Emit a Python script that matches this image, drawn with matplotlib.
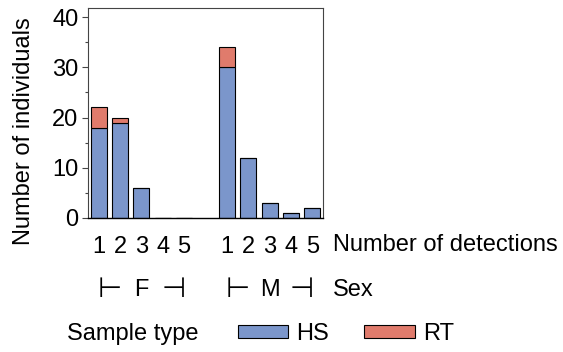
import matplotlib
matplotlib.use("Agg")
import matplotlib.pyplot as plt
import matplotlib.transforms as mtransforms
from matplotlib.patches import Patch
from matplotlib.ticker import MultipleLocator
import numpy as np

plt.rcParams["font.family"] = ["Liberation Sans", "DejaVu Sans"]
plt.rcParams["font.size"] = 17

sexes = ["F", "M"]
detections = ["1", "2", "3", "4", "5"]
hs_counts = {"F": [18, 19, 6, 0, 0], "M": [30, 12, 3, 1, 2]}
rt_counts = {"F": [4, 1, 0, 0, 0], "M": [4, 0, 0, 0, 0]}

HS_COLOR = "#7b96cb"
RT_COLOR = "#e07b6c"
FRAME = "#444444"

fig = plt.figure(figsize=(5.63, 3.52), dpi=100)
ax = fig.add_axes([0.1563, 0.3807, 0.4174, 0.5966])

# each sex gets its own block of 5 bars, one empty slot in between
positions = []
labels = []
for i, sex in enumerate(sexes):
    x = np.arange(len(detections)) + i * (len(detections) + 1)
    ax.bar(x, hs_counts[sex], width=0.75, color=HS_COLOR, edgecolor="black", linewidth=0.8)
    ax.bar(x, rt_counts[sex], width=0.75, bottom=hs_counts[sex], color=RT_COLOR,
           edgecolor="black", linewidth=0.8)
    positions.extend(x)
    labels.extend(detections)

ax.set_xlim(-0.5, 10.5)
ax.set_ylim(0, 41.8)
ax.yaxis.set_major_locator(MultipleLocator(10))
ax.yaxis.set_minor_locator(MultipleLocator(5))
ax.tick_params(axis="y", which="major", length=4, width=0.8, pad=3, color=FRAME)
ax.tick_params(axis="y", which="minor", length=2.5, width=0.8, color=FRAME)

ax.set_xticks(positions, labels)
ax.tick_params(axis="x", length=0, pad=13)

for side in ("top", "right", "left"):
    ax.spines[side].set_color(FRAME)
    ax.spines[side].set_linewidth(0.8)
ax.spines["bottom"].set_color("black")
ax.spines["bottom"].set_linewidth(1.0)

ax.set_ylabel("Number of individuals")
ax.yaxis.set_label_coords(-0.225, 0.416)

# row labels to the right of the axes
trans = mtransforms.blended_transform_factory(ax.transData, fig.transFigure)
row1_y = 1 - 245 / 352
row2_y = 1 - 290 / 352
ax.text(10.95, row1_y, "Number of detections", transform=trans, va="center", ha="left")
for i, sex in enumerate(sexes):
    x0 = i * (len(detections) + 1)
    ax.text(x0 + 0.5, row2_y, "\u22a2", transform=trans, va="center", ha="center", fontsize=20)
    ax.text(x0 + 2, row2_y, sex, transform=trans, va="center", ha="center")
    ax.text(x0 + 3.5, row2_y, "\u22a3", transform=trans, va="center", ha="center", fontsize=20)
ax.text(10.95, row2_y, "Sex", transform=trans, va="center", ha="left")

# legend row
fig.text(67 / 563, 1 - 334 / 352, "Sample type", va="center", ha="left")
handles = [Patch(facecolor=HS_COLOR, edgecolor="black", linewidth=0.8, label="HS"),
           Patch(facecolor=RT_COLOR, edgecolor="black", linewidth=0.8, label="RT")]
fig.legend(handles=handles, loc="center left", bbox_to_anchor=(238 / 563, 1 - 334 / 352),
           ncol=2, frameon=False, handlelength=2.12, handleheight=0.42,
           handletextpad=0.35, columnspacing=1.5, borderaxespad=0, borderpad=0)

fig.savefig("out.png", dpi=100)
